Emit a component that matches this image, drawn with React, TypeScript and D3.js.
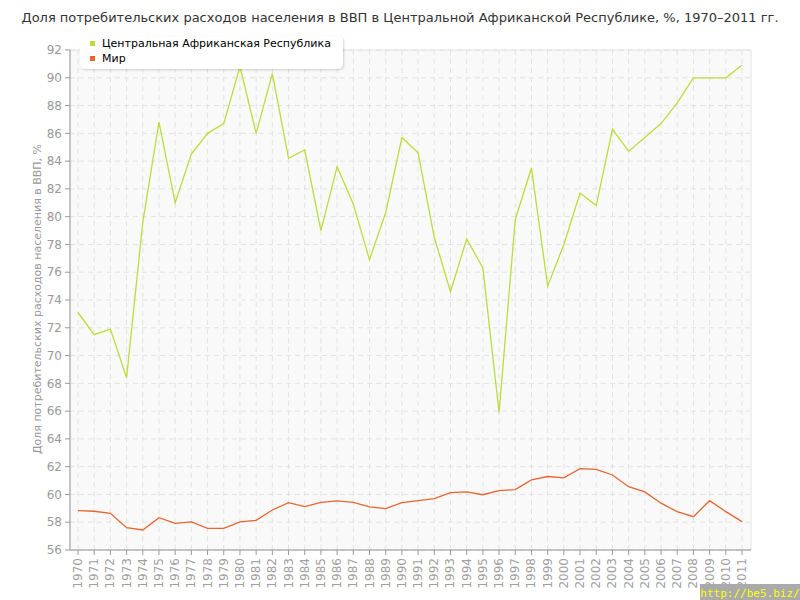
import React from "react";
import * as d3 from "d3";

const years: number[] = Array.from({ length: 42 }, (_, i) => 1970 + i);
const carValues: number[] = [
  73.1, 71.5, 71.9, 68.4, 79.6, 86.8, 81.0, 84.5, 86.0, 86.7,
  90.8, 86.0, 90.3, 84.2, 84.8, 79.0, 83.6, 80.9, 76.9, 80.3,
  85.7, 84.6, 78.5, 74.6, 78.4, 76.3, 65.9, 79.8, 83.5, 75.0,
  78.0, 81.7, 80.8, 86.3, 84.7, 85.7, 86.7, 88.2, 90.0, 90.0,
  90.0, 90.9,
];
const worldValues: number[] = [
  58.83, 58.79, 58.64, 57.61, 57.44, 58.33, 57.92, 58.02, 57.56, 57.56,
  58.02, 58.14, 58.88, 59.41, 59.12, 59.43, 59.53, 59.43, 59.1, 58.98,
  59.41, 59.55, 59.7, 60.13, 60.18, 59.98, 60.27, 60.35, 61.05, 61.29,
  61.2, 61.86, 61.81, 61.4, 60.56, 60.18, 59.37, 58.76, 58.4, 59.55,
  58.76, 58.04,
];
const yTicks: number[] = d3.range(56, 93, 2);
const seriesNames: string[] = ["Центральная Африканская Республика", "Мир"];
const seriesColors: string[] = ["#bcdc3c", "#e8652f"];
const title =
  "Доля потребительских расходов населения в ВВП в Центральной Африканской Республике, %, 1970–2011 гг.";
const yTitle = "Доля потребительских расходов населения в ВВП, %";

export default function App() {
  const W = 800, H = 600;
  const left = 70, right = 751, top = 50, bottom = 550;
  const x = d3.scalePoint<number>().domain(years).range([78, 742]);
  const y = d3.scaleLinear().domain([56, 92]).range([bottom, top]);
  const line = d3
    .line<number>()
    .x((_, i) => x(years[i]) as number)
    .y((v) => y(v));
  const font = "DejaVu Sans, Verdana, sans-serif";
  return (
    <svg
      width={W}
      height={H}
      style={{ position: "absolute", left: 0, top: 0, background: "#fff" }}
      fontFamily={font}
    >
      <defs>
        <filter id="sh" x="-10%" y="-30%" width="120%" height="170%">
          <feDropShadow dx="1" dy="1" stdDeviation="1.2" floodColor="#000" floodOpacity="0.18" />
        </filter>
      </defs>
      <text x={400} y={22} textAnchor="middle" fontSize={13} fill="#333">
        {title}
      </text>
      <rect x={left} y={top} width={right - left} height={bottom - top} fill="#f9f9f9" stroke="#e4e4e4" />
      {years.map((yr) => (
        <line
          key={"vg" + yr}
          x1={x(yr)}
          x2={x(yr)}
          y1={top}
          y2={bottom}
          stroke="#e2e2e2"
          strokeDasharray="5,4"
        />
      ))}
      {yTicks.map((t) => (
        <line
          key={"hg" + t}
          x1={left}
          x2={right}
          y1={y(t)}
          y2={y(t)}
          stroke="#e2e2e2"
          strokeDasharray="5,4"
        />
      ))}
      <line x1={left} x2={left} y1={top} y2={bottom} stroke="#999" />
      <line x1={left} x2={right} y1={bottom} y2={bottom} stroke="#999" />
      {yTicks.map((t) => (
        <g key={"yt" + t}>
          <line x1={left - 5} x2={left} y1={y(t)} y2={y(t)} stroke="#999" />
          <text x={left - 8} y={y(t)} dy="0.35em" textAnchor="end" fontSize={12} fill="#999">
            {t}
          </text>
        </g>
      ))}
      {years.map((yr) => (
        <g key={"xt" + yr}>
          <line x1={x(yr)} x2={x(yr)} y1={bottom} y2={bottom + 5} stroke="#999" />
          <text
            transform={`translate(${(x(yr) as number) + 4},${bottom + 8}) rotate(-90)`}
            textAnchor="end"
            fontSize={12}
            fill="#a0a0a0"
          >
            {yr}
          </text>
        </g>
      ))}
      <text
        transform={`translate(41,299) rotate(-90)`}
        textAnchor="middle"
        fontSize={11}
        fill="#999"
      >
        {yTitle}
      </text>
      <path d={line(carValues) || ""} fill="none" stroke={seriesColors[0]} strokeWidth={1.3} />
      <path d={line(worldValues) || ""} fill="none" stroke={seriesColors[1]} strokeWidth={1.3} />
      <g>
        <rect x={80} y={36} width={263} height={33} rx={5} fill="#fff" filter="url(#sh)" />
        {seriesNames.map((n, i) => (
          <g key={n}>
            <rect x={90} y={41 + i * 15} width={5} height={5} fill={seriesColors[i]} />
            <text x={102} y={47 + i * 15} fontSize={11} fill="#000">
              {n}
            </text>
          </g>
        ))}
      </g>
      <rect x={700} y={584} width={100} height={16} fill="#aaaaaa" />
      <text x={750} y={597} textAnchor="middle" fontSize={11} fill="#ffff00" fontFamily="DejaVu Sans Mono, monospace">
        http://be5.biz/
      </text>
    </svg>
  );
}
